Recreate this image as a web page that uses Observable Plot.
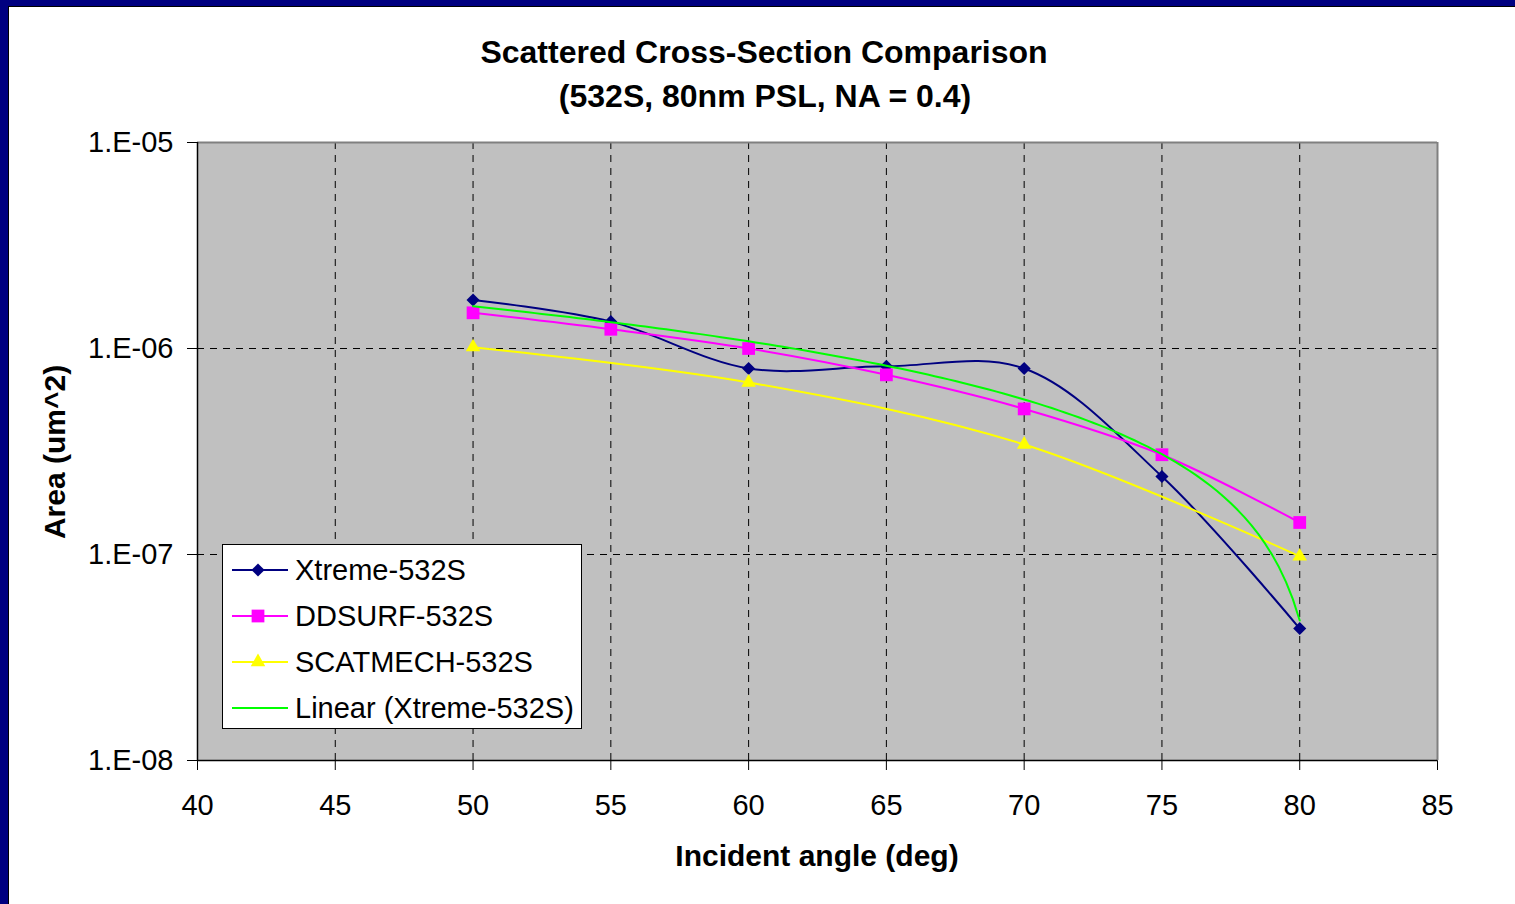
<!DOCTYPE html>
<html>
<head>
<meta charset="utf-8">
<script src="https://cdn.jsdelivr.net/npm/d3@7"></script>
<script src="https://cdn.jsdelivr.net/npm/@observablehq/plot@0.6"></script>
<style>
  html, body { margin: 0; padding: 0; }
  body {
    width: 1515px; height: 904px; overflow: hidden; position: relative;
    background: #000080;
    font-family: "Liberation Sans", Arial, sans-serif;
  }
  #panel {
    position: absolute; left: 8px; top: 6px; width: 1520px; height: 910px;
    background: #fff; border-left: 1px solid #000; border-top: 1px solid #000;
  }
  #chart, #overlay { position: absolute; left: 0; top: 0; }
  #overlay { pointer-events: none; }
</style>
</head>
<body>
<div id="panel"></div>
<div id="chart"></div>
<svg id="overlay" width="1515" height="904" font-family="Liberation Sans, Arial, sans-serif"></svg>
<script>
// Scattered cross-section (um^2) vs. incident angle for three models
const angles = [50, 55, 60, 65, 70, 75, 80];
const xtremeArea = [1.72e-6, 1.35e-6, 8.0e-7, 8.2e-7, 8.0e-7, 2.39e-7, 4.37e-8];
const ddsurfArea = [1.49e-6, 1.24e-6, 1.0e-6, 7.45e-7, 5.09e-7, 3.05e-7, 1.43e-7];
const scatAngles = [50, 60, 70, 80];
const scatmechArea = [1.015e-6, 6.84e-7, 3.42e-7, 9.8e-8];

const seriesNames = ["Xtreme-532S", "DDSURF-532S", "SCATMECH-532S", "Linear (Xtreme-532S)"];
const seriesColors = ["#000080", "#ff00ff", "#ffff00", "#00ff00"];
const seriesSymbols = ["diamond2", "square", "triangle", null];
const symbolRadius = [5.9, 7.2, 5.4];

const xTicks = [40, 45, 50, 55, 60, 65, 70, 75, 80, 85];
const yTicks = [1e-8, 1e-7, 1e-6, 1e-5];
const yTickLabels = ["1.E-08", "1.E-07", "1.E-06", "1.E-05"];

// Least-squares linear trend of the Xtreme series (fit in linear space)
const n = angles.length;
const mx = d3.mean(angles), my = d3.mean(xtremeArea);
const slope = d3.sum(angles, (a, i) => (a - mx) * (xtremeArea[i] - my)) /
              d3.sum(angles, a => (a - mx) ** 2);
const intercept = my - slope * mx;
const trendAngles = d3.range(angles[0], angles[n - 1] + 1e-9, 0.25);
const trend = trendAngles.map(a => ({angle: a, area: intercept + slope * a}));

const xtreme = angles.map((a, i) => ({angle: a, area: xtremeArea[i]}));
const ddsurf = angles.map((a, i) => ({angle: a, area: ddsurfArea[i]}));
const scatmech = scatAngles.map((a, i) => ({angle: a, area: scatmechArea[i]}));

const dash = "7,6";

const chart = Plot.plot({
  width: 1515,
  height: 904,
  marginLeft: 197,
  marginRight: 78,
  marginTop: 142,
  marginBottom: 144,
  style: {background: "transparent", fontFamily: "Liberation Sans, Arial, sans-serif", fontSize: "29px", color: "#000"},
  x: {domain: [40, 85], ticks: xTicks, tickSize: 10, tickPadding: 24, label: null},
  y: {type: "log", domain: [1e-8, 1e-5], ticks: yTicks, tickFormat: d => yTickLabels[yTicks.indexOf(d)],
      tickSize: 10, tickPadding: 14, label: null},
  marks: [
    Plot.frame({fill: "#c0c0c0", stroke: null}),
    Plot.ruleX(xTicks.slice(1, -1), {stroke: "#000", strokeWidth: 1, strokeDasharray: dash}),
    Plot.ruleY(yTicks.slice(1, -1), {stroke: "#000", strokeWidth: 1, strokeDasharray: dash}),
    Plot.ruleY([1e-5], {stroke: "#808080", strokeWidth: 2}),
    Plot.ruleX([85], {stroke: "#808080", strokeWidth: 2}),
    Plot.ruleY([1e-8], {stroke: "#000", strokeWidth: 1.5}),
    Plot.ruleX([40], {stroke: "#000", strokeWidth: 1.5}),
    Plot.line(xtreme, {x: "angle", y: "area", stroke: seriesColors[0], strokeWidth: 2, curve: "catmull-rom"}),
    Plot.dot(xtreme, {x: "angle", y: "area", symbol: seriesSymbols[0], fill: seriesColors[0], stroke: "none", r: symbolRadius[0]}),
    Plot.line(ddsurf, {x: "angle", y: "area", stroke: seriesColors[1], strokeWidth: 2, curve: "catmull-rom"}),
    Plot.dot(ddsurf, {x: "angle", y: "area", symbol: seriesSymbols[1], fill: seriesColors[1], stroke: "none", r: symbolRadius[1]}),
    Plot.line(scatmech, {x: "angle", y: "area", stroke: seriesColors[2], strokeWidth: 2, curve: "catmull-rom"}),
    Plot.dot(scatmech, {x: "angle", y: "area", symbol: seriesSymbols[2], fill: seriesColors[2], stroke: "none", r: symbolRadius[2]}),
    Plot.line(trend, {x: "angle", y: "area", stroke: seriesColors[3], strokeWidth: 2})
  ]
});
document.getElementById("chart").append(chart);

// Titles, axis titles and legend
const ov = d3.select("#overlay");
ov.append("text").attr("x", 764).attr("y", 63).attr("text-anchor", "middle")
  .attr("font-size", 32).attr("font-weight", "bold").text("Scattered Cross-Section Comparison");
ov.append("text").attr("x", 765).attr("y", 107).attr("text-anchor", "middle")
  .attr("font-size", 32).attr("font-weight", "bold").text("(532S, 80nm PSL, NA = 0.4)");
ov.append("text").attr("x", 817).attr("y", 866).attr("text-anchor", "middle")
  .attr("font-size", 30).attr("font-weight", "bold").text("Incident angle (deg)");
ov.append("text").attr("transform", "translate(65,452) rotate(-90)").attr("text-anchor", "middle")
  .attr("font-size", 30).attr("font-weight", "bold").text("Area (um^2)");

const lg = ov.append("g");
lg.append("rect").attr("x", 222.5).attr("y", 544.5).attr("width", 359).attr("height", 184)
  .attr("fill", "#fff").attr("stroke", "#000").attr("stroke-width", 1);
const rowY = [570, 616, 662, 708];
seriesNames.forEach((name, i) => {
  const y = rowY[i];
  lg.append("line").attr("x1", 232).attr("x2", 288).attr("y1", y).attr("y2", y)
    .attr("stroke", seriesColors[i]).attr("stroke-width", 2);
  if (seriesSymbols[i]) {
    const sym = {diamond2: d3.symbolDiamond2, square: d3.symbolSquare, triangle: d3.symbolTriangle}[seriesSymbols[i]];
    lg.append("path").attr("transform", `translate(258,${y})`)
      .attr("d", d3.symbol(sym, symbolRadius[i] * symbolRadius[i] * Math.PI)())
      .attr("fill", seriesColors[i]);
  }
  lg.append("text").attr("x", 295).attr("y", y + 10).attr("font-size", 29).text(name);
});
</script>
</body>
</html>
